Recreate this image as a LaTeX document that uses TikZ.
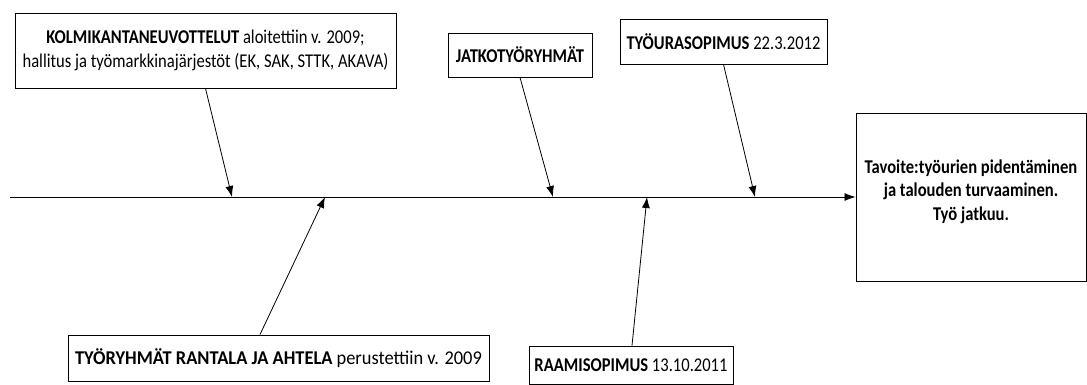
\documentclass[tikz,border=0pt]{standalone}
\usepackage{fontspec}
\setmainfont{Carlito}[FakeStretch=0.85]
\newfontfamily\widecarlito{Carlito}[FakeStretch=0.945]
\usetikzlibrary{arrows.meta}
\tikzset{
  infobox/.style={draw, line width=0.9pt, inner sep=0pt, align=center,
    font=\fontsize{19.5}{23.5}\selectfont},
  feed/.style={line width=0.8pt, -{Latex[length=11pt,width=8pt]}}
}

\begin{document}
\begin{tikzpicture}[x={(1pt,0)}, y={(0,-1pt)}]
              \useasboundingbox (0,0) rectangle (1087,385);

              % Goal box at the end of the main line
              \node[infobox, minimum width=230pt, minimum height=168pt] (tavoite) at (971,197)
                {\textbf{Tavoite:työurien pidentäminen}\\\textbf{ja talouden turvaaminen.}\\\textbf{Työ jatkuu.}\\[-9pt]};

              % Draw the main line
              \coordinate (start) at (10,197);
              \draw[feed] (start) -- (tavoite.west);

              % Boxes above the line
              \node[infobox, minimum width=381pt, minimum height=75pt] (kolmi) at (205.5,50.5)
                {\textbf{KOLMIKANTANEUVOTTELUT} aloitettiin v. 2009;\\hallitus ja työmarkkinajärjestöt (EK, SAK, STTK, AKAVA)};
              \node[infobox, minimum width=144pt, minimum height=44pt] (jatko) at (520,55)
                {\textbf{JATKOTYÖRYHMÄT}};
              \node[infobox, minimum width=207pt, minimum height=45pt] (tyoura) at (723.5,41.5)
                {\textbf{TYÖURASOPIMUS} 22.3.2012};

              % Boxes below the line
              \node[infobox, minimum width=421pt, minimum height=46pt] (ryhmat) at (278.5,358)
                {\widecarlito\textbf{TYÖRYHMÄT RANTALA JA AHTELA} perustettiin v. 2009};
              \node[infobox, minimum width=204pt, minimum height=38pt] (raami) at (631,365)
                {\textbf{RAAMISOPIMUS} 13.10.2011};

              % Points where the arrows meet the line
              \coordinate (p1) at (232,197);
              \coordinate (p2) at (325,197);
              \coordinate (p3) at (553,197);
              \coordinate (p4) at (647,197);
              \coordinate (p5) at (755,197);

              % Arrows into the main line
              \draw[feed] (kolmi.south) -- (p1);
              \draw[feed] ([xshift=-18.5pt]ryhmat.north) -- (p2);
              \draw[feed] (jatko.south) -- (p3);
              \draw[feed] ([xshift=1pt]raami.north) -- (p4);
              \draw[feed] (tyoura.south) -- (p5);
            \end{tikzpicture}
\end{document}
